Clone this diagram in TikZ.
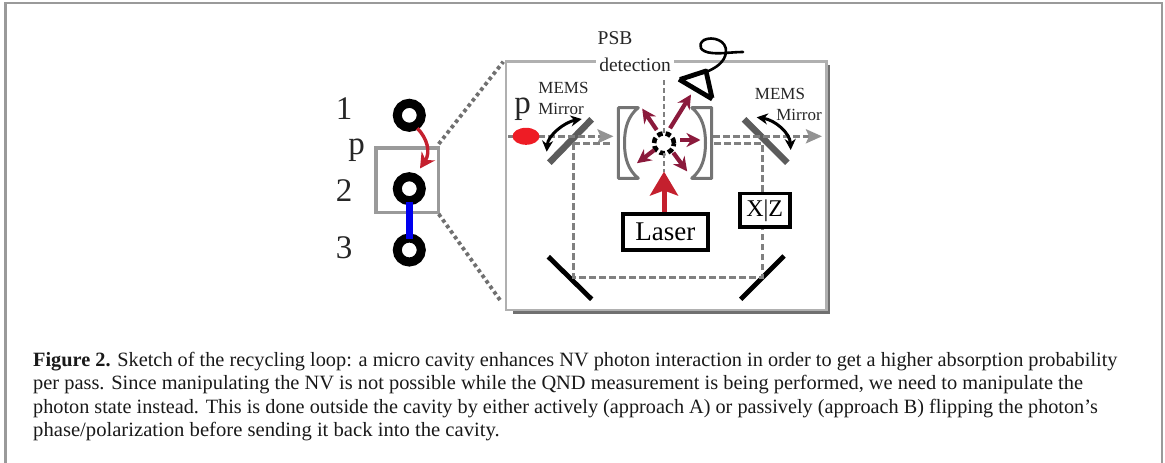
\documentclass[tikz,border=0pt]{standalone}
\usepackage{fontspec}
\setmainfont{Liberation Serif}
\usetikzlibrary{arrows.meta,shapes.geometric}
\definecolor{framegray}{HTML}{9A9A9A}
\definecolor{boxgray}{HTML}{B0B0B0}
\definecolor{shadowgray}{HTML}{707070}
\definecolor{dashgray}{HTML}{808080}
\definecolor{mirrorgray}{HTML}{5C5C5C}
\definecolor{pumpred}{HTML}{C4202E}
\definecolor{emitred}{HTML}{8B1A3C}
\definecolor{photonred}{HTML}{EE1C25}
\definecolor{linkblue}{HTML}{0000EE}
\newcommand{\fs}[1]{\fontsize{#1}{#1}\selectfont}
\tikzset{
  qubit/.style={circle,draw=black,line width=9pt,minimum size=24pt,inner sep=0pt,outer sep=4.5pt},
  lbl/.style={inner sep=0pt,text=black!85},
  capline/.style={anchor=base west,inner sep=0pt,text=black!90},
  dashline/.style={draw=dashgray,line width=3pt,dash pattern=on 6.5pt off 3.5pt},
  thindash/.style={draw=dashgray,line width=1.7pt,dash pattern=on 5pt off 3pt},
  zoomline/.style={draw=shadowgray,line width=3.8pt,dash pattern=on 3.6pt off 3.2pt},
  emit/.style={draw=emitred,line width=4.2pt,-{Stealth[length=14pt,width=14pt]}},
  blackbox/.style={draw=black,line width=3.6pt,fill=white,inner sep=0pt},
  cavmirror/.style={draw=mirrorgray!85,line width=3pt,fill=white,line join=round},
  memsm/.style={draw=mirrorgray,line width=6.5pt},
  foldm/.style={draw=black,line width=4.8pt},
  swing/.style={draw=black,line width=3pt,{Stealth[length=11pt,width=11pt]}-{Stealth[length=11pt,width=11pt]}},
  outarrow/.style={-{Stealth[length=16pt,width=14pt,inset=3pt,color=dashgray!85]}}
}
\begin{document}
\begin{tikzpicture}[x=1pt,y=-1pt]
\useasboundingbox (0,0) rectangle (1165,463);
% outer frame
\draw[framegray,line width=2.6pt] (5.5,463) -- (5.5,3) -- (1162,3) -- (1162,463);
% named points
\coordinate (boxTL) at (506,61.3);
\coordinate (boxTR) at (826.7,61.3);
\coordinate (boxBR) at (826.7,310);
\coordinate (boxBL) at (506,310);
\coordinate (inStart) at (508,136.3);
\coordinate (inEnd) at (613.5,136.3);
\coordinate (outStart) at (713.3,136.3);
\coordinate (outEnd) at (822,136.3);
\coordinate (retL) at (573.3,143.3);
\coordinate (cavL) at (613.3,143.3);
\coordinate (cavR) at (713.3,143.3);
\coordinate (retR) at (762.3,143.3);
\coordinate (foldL) at (573.3,277.3);
\coordinate (foldR) at (762.3,277.3);
\coordinate (zoomA) at (438.7,144);
\coordinate (zoomB) at (503.3,61.7);
\coordinate (zoomC) at (438.7,214);
\coordinate (zoomD) at (500,300);
% zoom box and main box
\draw[draw=framegray,line width=3.4pt] (376,148) rectangle (438.7,212.7);
\draw[zoomline] (zoomA) -- (zoomB);
\draw[zoomline] (zoomC) -- (zoomD);
\draw[draw=shadowgray,line width=3pt] (828,65) -- (828,312.7) -- (513,312.7);
\draw[draw=boxgray,line width=2.6pt] (boxTL) -- (boxTR) -- (boxBR) -- (boxBL) -- cycle;
% chain
\node[qubit] (q1) at (409.3,115.3) {};
\node[qubit] (q2) at (409.3,188.7) {};
\node[qubit] (q3) at (409.3,250) {};
\draw[draw=linkblue,line width=7.2pt,shorten <=-3.7pt,shorten >=-5pt] (q2.south) -- (q3.north);
\coordinate (hopS) at (417.3,128.3);
\coordinate (hopE) at (420,168.5);
\draw[draw=pumpred,line width=3.4pt,-{Stealth[length=15pt,width=16pt]}] (hopS) .. controls (427,138) and (431,152) .. (hopE);
\node[lbl] (n1) at (344,109) {\fs{33}1};
\node[lbl] (n2) at (344,190.5) {\fs{33}2};
\node[lbl] (n3) at (344,248) {\fs{33}3};
\node[lbl] (pa) at (356.5,150) {\fs{33}p};
% fold mirrors and MEMS mirrors
\coordinate (m1a) at (591.7,119.3);
\coordinate (m1b) at (549.3,162.7);
\coordinate (m2a) at (744,119.3);
\coordinate (m2b) at (787.3,162.7);
\draw[memsm] (m1a) -- (m1b);
\draw[memsm] (m2a) -- (m2b);
\coordinate (f1a) at (548.3,256.7);
\coordinate (f1b) at (591.7,299.3);
\coordinate (f2a) at (784,256);
\coordinate (f2b) at (740.7,299.3);
\draw[foldm] (f1a) -- (f1b);
\draw[foldm] (f2a) -- (f2b);
% X|Z and laser
\node[blackbox,minimum width=50pt,minimum height=33.5pt] (xz) at (764.7,210.3) {\fs{24}X|Z};
\node[blackbox,minimum width=85pt,minimum height=36pt] (laser) at (665.3,232) {\fs{27}Laser};
% beams
\draw[dashline,outarrow] (inStart) -- (inEnd);
\draw[dashline] (retL) -- (cavL);
\draw[dashline] (retL) -- (foldL) -- (foldR) -- (xz.south -| foldR);
\draw[dashline] (xz.north -| retR) -- (retR) -- (cavR);
\draw[dashline,outarrow] (outStart) -- (outEnd);
% swing arrows
\coordinate (s1a) at (581.7,119);
\coordinate (s1b) at (546.7,151.7);
\coordinate (s2a) at (756.7,117.3);
\coordinate (s2b) at (790.7,150);
\draw[swing] (s1a) .. controls (565,122) and (548,135) .. (s1b);
\draw[swing] (s2a) .. controls (775,120) and (790,133) .. (s2b);
% photon
\node[ellipse,fill=photonred,minimum width=27pt,minimum height=17pt,inner sep=0pt] (photon) at (526,136.3) {};
% cavity
\draw[cavmirror] (638.3,107.7) -- (618.3,107.7) -- (618.3,178.3) -- (638.3,178.3) .. controls (628,170) and (624.5,158) .. (624.5,143) .. controls (624.5,128) and (628,116) .. (638.3,107.7) -- cycle;
\draw[cavmirror] (691.7,107.7) -- (711.7,107.7) -- (711.7,178.3) -- (691.7,178.3) .. controls (702,170) and (705.5,158) .. (705.5,143) .. controls (705.5,128) and (702,116) .. (691.7,107.7) -- cycle;
% NV centre
\node[circle,draw=black,line width=4.6pt,dash pattern=on 5.5pt off 3pt,minimum size=20pt,inner sep=0pt,outer sep=0pt] (nv) at (664,143.3) {};
\coordinate (detTop) at (664,80);
\draw[thindash] (detTop) -- (nv.north);
\coordinate (laserTip) at (664,171.5);
\draw[thindash] (nv.south) -- (laserTip);
% pump
\draw[draw=pumpred,line width=5pt,-{Stealth[length=24pt,width=28pt,inset=5pt]}] (laser.north -| laserTip) -- (laserTip);
% emission
\coordinate (e1a) at (656.7,130);
\coordinate (e1b) at (642.2,108.6);
\coordinate (e2a) at (670,128.3);
\coordinate (e2b) at (691,94.5);
\coordinate (e3a) at (680,140);
\coordinate (e3b) at (700.5,140);
\coordinate (e4a) at (673.3,152.7);
\coordinate (e4b) at (687.2,171.4);
\coordinate (e5a) at (654.3,150);
\coordinate (e5b) at (637,163.2);
\draw[emit] (e1a) -- (e1b);
\draw[emit] (e2a) -- (e2b);
\draw[emit] (e3a) -- (e3b);
\draw[emit] (e4a) -- (e4b);
\draw[emit] (e5a) -- (e5b);
% detector
\draw[draw=black,line width=4.8pt,line join=round] (679,79.3) -- (712.3,99) (680,79.5) -- (706,71) -- (712,98);
\draw[draw=black,line width=2.6pt,line cap=round] (706,72) .. controls (716,68) and (725,62) .. (726,52) .. controls (727,40) and (712,36) .. (704,40) .. controls (697,45) and (700,52) .. (712,53) .. controls (722,54) and (732,52) .. (743,52);
% labels
\node[lbl,fill=white,inner xsep=3pt,inner ysep=1pt] (det) at (635,65) {\fs{19.5}detection};
\node[lbl] (psb) at (615,38) {\fs{19.5}PSB};
\node[lbl] (mems1) at (563.5,87.5) {\fs{17}MEMS};
\node[lbl] (mir1) at (561,109.3) {\fs{17}Mirror};
\node[lbl] (mems2) at (780,94) {\fs{17}MEMS};
\node[lbl] (mir2) at (799,115) {\fs{17}Mirror};
\node[lbl] (pb) at (522.7,109) {\fs{33}p};
% caption
\node[capline] (c1) at (33,366) {\fs{20.3}\textbf{Figure 2.} Sketch of the recycling loop: a micro cavity enhances NV photon interaction in order to get a higher absorption probability};
\node[capline] (c2) at (33,389.5) {\fs{20.3}\scalebox{1.005}[1]{per pass. Since manipulating the NV is not possible while the QND measurement is being performed, we need to manipulate the}};
\node[capline] (c3) at (33,413) {\fs{20.3}\scalebox{.997}[1]{photon state instead. This is done outside the cavity by either actively (approach A) or passively (approach B) flipping the photon’s}};
\node[capline] (c4) at (33,436.5) {\fs{20.3}\scalebox{1.017}[1]{phase/polarization before sending it back into the cavity.}};
\end{tikzpicture}
\end{document}
